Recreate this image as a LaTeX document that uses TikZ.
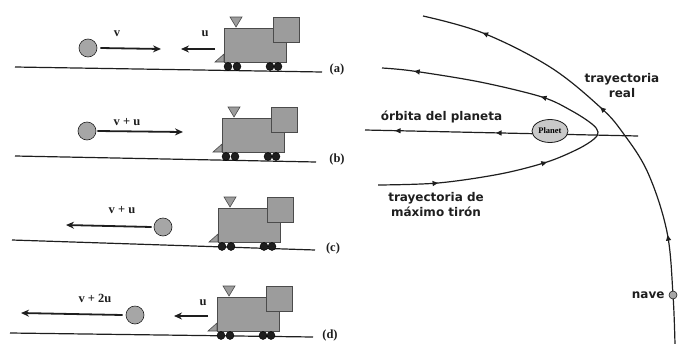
\documentclass[tikz,border=0pt]{standalone}
\usepackage{fontspec}
\setmainfont{Liberation Serif}
\newfontfamily\labelsans{DejaVu Sans}
\usetikzlibrary{arrows.meta,decorations.markings,shapes.geometric}

\definecolor{trainfill}{HTML}{9C9C9C}
\definecolor{ballfill}{HTML}{A6A6A6}
\definecolor{planetfill}{HTML}{C9C9C9}
\definecolor{ink}{HTML}{1E1E1E}

\tikzset{
  flowtip/.tip={Triangle[length=5.5pt,width=5pt]},
  ground/.style={draw=ink,line width=1.2pt},
  ball/.style={circle,draw=ink,fill=ballfill,line width=0.6pt,minimum size=18pt,inner sep=0pt},
  vec/.style={draw=ink,line width=1.8pt,-{Stealth[length=8pt,width=7pt]}},
  vlabel/.style={font=\bfseries\fontsize{12.5}{13}\selectfont,inner sep=0pt,text=ink},
  panellabel/.style={font=\bfseries\fontsize{12.5}{13}\selectfont,inner sep=0pt,text=ink},
  orbit/.style={draw=ink,line width=1.2pt},
  slabel/.style={font=\labelsans\bfseries\fontsize{12}{15}\selectfont,align=center,inner sep=0pt,text=ink},
  part/.style={fill=trainfill,draw=ink!80,line width=0.6pt},
  train/.pic={
    % cowcatcher, body, cab, chimney and wheels
    \path[part] (-9,0) -- (0,-8) -- (0,0) -- cycle;
    \path[part] (0,0) rectangle (62,-34);
    \path[part] (49,-20) rectangle (75,-45);
    \path[part] (6,-45) -- (18,-45) -- (12,-35) -- cycle;
    \foreach \wx in {4,13,46,54}
      \fill[ink,draw=black] (\wx,4.5) circle (4);
  },
}

\begin{document}
\begin{tikzpicture}[x=1pt,y=-1pt]
\useasboundingbox (0,0) rectangle (679,343);

% ---------------- panel (a) ----------------
\coordinate (ga1) at (15,67); \coordinate (ga2) at (322,72);
\draw[ground] (ga1) -- (ga2);
\pic at (224,62) {train};
\node[ball] (ba) at (88,48) {};
\coordinate (va) at (161,49);
\draw[vec] ([xshift=3pt]ba.east) -- (va);
\node[vlabel] (lva) at (117,34) {v};
\coordinate (ua0) at (215,49); \coordinate (ua1) at (181,49);
\draw[vec] (ua0) -- (ua1);
\node[vlabel] (lua) at (205,34) {u};
\node[panellabel] (pa) at (337,69) {(a)};

% ---------------- panel (b) ----------------
\coordinate (gb1) at (15,156); \coordinate (gb2) at (316,162);
\draw[ground] (gb1) -- (gb2);
\pic at (222,152) {train};
\node[ball] (bb) at (87,131) {};
\coordinate (vb) at (183,132);
\draw[vec] ([xshift=1pt]bb.east) -- (vb);
\node[vlabel] (lvb) at (127,122) {v + u};
\node[panellabel] (pb) at (337,159) {(b)};

% ---------------- panel (c) ----------------
\coordinate (gc1) at (12,240); \coordinate (gc2) at (315,250);
\draw[ground] (gc1) -- (gc2);
\pic at (218,242) {train};
\node[ball] (bc) at (163,227) {};
\coordinate (vc) at (66,225);
\draw[vec] ([xshift=-2pt]bc.west) -- (vc);
\node[vlabel] (lvc) at (122,210) {v + u};
\node[panellabel] (pc) at (333,248) {(c)};

% ---------------- panel (d) ----------------
\coordinate (gd1) at (10,333); \coordinate (gd2) at (313,337);
\draw[ground] (gd1) -- (gd2);
\pic at (217,331) {train};
\node[ball] (bd) at (135,315) {};
\coordinate (vd) at (21,313);
\draw[vec] ([xshift=-3pt]bd.west) -- (vd);
\node[vlabel] (lvd) at (95,298) {v + 2u};
\coordinate (ud0) at (208,316); \coordinate (ud1) at (174,316);
\draw[vec] (ud0) -- (ud1);
\node[vlabel] (lud) at (203,303) {u};
\node[panellabel] (pd) at (330,335) {(d)};

% ---------------- slingshot trajectories ----------------
% actual path of the spacecraft
\draw[orbit,postaction={decorate},decoration={markings,
    mark=at position 0.24 with {\arrow{flowtip}},
    mark=at position 0.56 with {\arrow{flowtip}},
    mark=at position 0.865 with {\arrow{flowtip}}}]
  plot[smooth,tension=0.6] coordinates {(675,345) (673,295) (667,232) (648,173)
    (623,133) (600,107) (550,67) (483,33) (423,16)};

% path of maximum pull around the planet
\draw[orbit,postaction={decorate},decoration={markings,
    mark=at position 0.13 with {\arrow{flowtip}},
    mark=at position 0.37 with {\arrow{flowtip}},
    mark=at position 0.65 with {\arrow{flowtip}},
    mark=at position 0.93 with {\arrow{flowtip}}}]
  plot[smooth,tension=0.55] coordinates {(378,185) (438,183) (500,174) (547,162)
    (578,149) (594,139) (598,132) (592,124) (572,111) (542,97) (480,82)
    (413,71) (382,68)};

% orbit of the planet
\coordinate (o1) at (638,136); \coordinate (o2) at (365,130);
\draw[orbit,postaction={decorate},decoration={markings,
    mark=at position 0.52 with {\arrow{flowtip}},
    mark=at position 0.89 with {\arrow{flowtip}}}]
  (o1) -- (o2);

\node[ellipse,draw=ink,fill=planetfill,line width=0.8pt,minimum width=36pt,
  minimum height=23pt,inner sep=0pt,font=\bfseries\fontsize{8.5}{9}\selectfont]
  (planet) at (550,131) {Planet};

\node[circle,draw=ink,fill=ballfill,line width=0.6pt,minimum size=8pt,inner sep=0pt]
  (nave) at (673,295) {};

\node[slabel] (lreal) at (622,85.5) {trayectoria\\real};
\node[slabel] (lorb) at (441.5,117) {órbita del planeta};
\node[slabel] (ltir) at (436,204.5) {trayectoria de\\máximo tirón};
\node[slabel,anchor=east] (lnave) at ([xshift=-4pt]nave.west) {nave};

\end{tikzpicture}
\end{document}
